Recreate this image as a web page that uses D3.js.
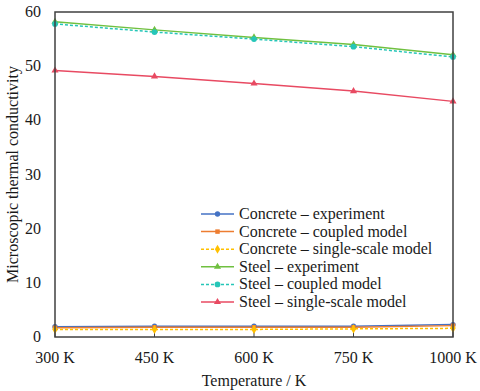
<!DOCTYPE html>
<html><head><meta charset="utf-8">
<script src="https://cdn.jsdelivr.net/npm/d3@7"></script>
</head><body style="margin:0">
<svg id="c" width="480" height="391"></svg>
<script>
const categories = ["300 K","450 K","600 K","750 K","1000 K"];
const yTicks = [0,10,20,30,40,50,60];
const concreteExperiment = [1.9,2.0,2.0,2.0,2.3];
const concreteCoupled = [1.7,1.8,1.8,1.8,2.1];
const concreteSingle = [1.4,1.4,1.4,1.5,1.6];
const steelExperiment = [58.2,56.7,55.3,54.0,52.1];
const steelCoupled = [57.8,56.3,55.0,53.6,51.7];
const steelSingle = [49.2,48.1,46.8,45.4,43.5];
const seriesNames = ["Concrete \u2013 experiment","Concrete \u2013 coupled model","Concrete \u2013 single-scale model","Steel \u2013 experiment","Steel \u2013 coupled model","Steel \u2013 single-scale model"];

const series = [
 {name:seriesNames[0], values:concreteExperiment, color:"#4472C4", dash:null, sym:d3.symbolCircle, size:22},
 {name:seriesNames[1], values:concreteCoupled, color:"#ED7D31", dash:null, sym:d3.symbolSquare, size:20},
 {name:seriesNames[2], values:concreteSingle, color:"#FFC000", dash:"3,2", sym:d3.symbolDiamond, size:24},
 {name:seriesNames[3], values:steelExperiment, color:"#70C040", dash:null, sym:d3.symbolTriangle, size:22},
 {name:seriesNames[4], values:steelCoupled, color:"#26C6B8", dash:"3,2", sym:d3.symbolCircle, size:26},
 {name:seriesNames[5], values:steelSingle, color:"#E84A62", dash:null, sym:d3.symbolTriangle, size:22}
];

const FONT = "'Liberation Serif', monospace";
const svg = d3.select("#c");
const L=55, R=453, T=12, B=337;
const x = d3.scalePoint().domain(categories).range([L,R]).padding(0);
const y = d3.scaleLinear().domain([0,60]).range([B,T]);

svg.append("g").selectAll("line").data(categories).join("line")
  .attr("x1",d=>x(d)).attr("x2",d=>x(d)).attr("y1",B).attr("y2",B-5)
  .attr("stroke","#404040").attr("stroke-width",1);

const line = d3.line().x((d,i)=>x(categories[i])).y(d=>y(d));
series.forEach(s=>{
  svg.append("path").datum(s.values).attr("d",line).attr("fill","none")
    .attr("stroke",s.color).attr("stroke-width",1.5).attr("stroke-dasharray",s.dash);
});
series.forEach(s=>{
  svg.append("g").selectAll("path").data(s.values).join("path")
    .attr("transform",(d,i)=>`translate(${x(categories[i])},${y(d)})`)
    .attr("d",d3.symbol().type(s.sym).size(s.size)).attr("fill",s.color);
});

svg.append("rect").attr("x",L).attr("y",T).attr("width",R-L).attr("height",B-T)
  .attr("fill","none").attr("stroke","#404040").attr("stroke-width",1.5);

svg.append("g").selectAll("text").data(yTicks).join("text")
  .attr("x",L-14).attr("y",d=>y(d)+5).attr("text-anchor","end").style("font-family",FONT)
  .attr("font-size",16).attr("fill","#1a1a1a").text(d=>d);
svg.append("g").selectAll("text").data(categories).join("text")
  .attr("x",d=>x(d)).attr("y",363).attr("text-anchor","middle").style("font-family",FONT)
  .attr("font-size",16).attr("fill","#1a1a1a").text(d=>d);

svg.append("text").attr("x",(L+R)/2).attr("y",386).attr("text-anchor","middle").style("font-family",FONT)
  .attr("font-size",16).attr("fill","#1a1a1a").text("Temperature / K");
svg.append("text").attr("transform",`translate(18,${(T+B)/2}) rotate(-90)`).attr("text-anchor","middle").style("font-family",FONT)
  .attr("font-size",16).attr("fill","#1a1a1a").text("Microscopic thermal conductivity");

const lg = svg.append("g");
series.forEach((s,i)=>{
  const yy = 214 + i*17.6;
  lg.append("line").attr("x1",201).attr("x2",234).attr("y1",yy).attr("y2",yy)
    .attr("stroke",s.color).attr("stroke-width",1.5).attr("stroke-dasharray",s.dash);
  lg.append("path").attr("transform",`translate(217.5,${yy})`)
    .attr("d",d3.symbol().type(s.sym).size(s.size)).attr("fill",s.color);
  lg.append("text").attr("x",239).attr("y",yy+5).style("font-family",FONT).attr("font-size",16).attr("fill","#1a1a1a").text(s.name);
});
</script></body></html>
